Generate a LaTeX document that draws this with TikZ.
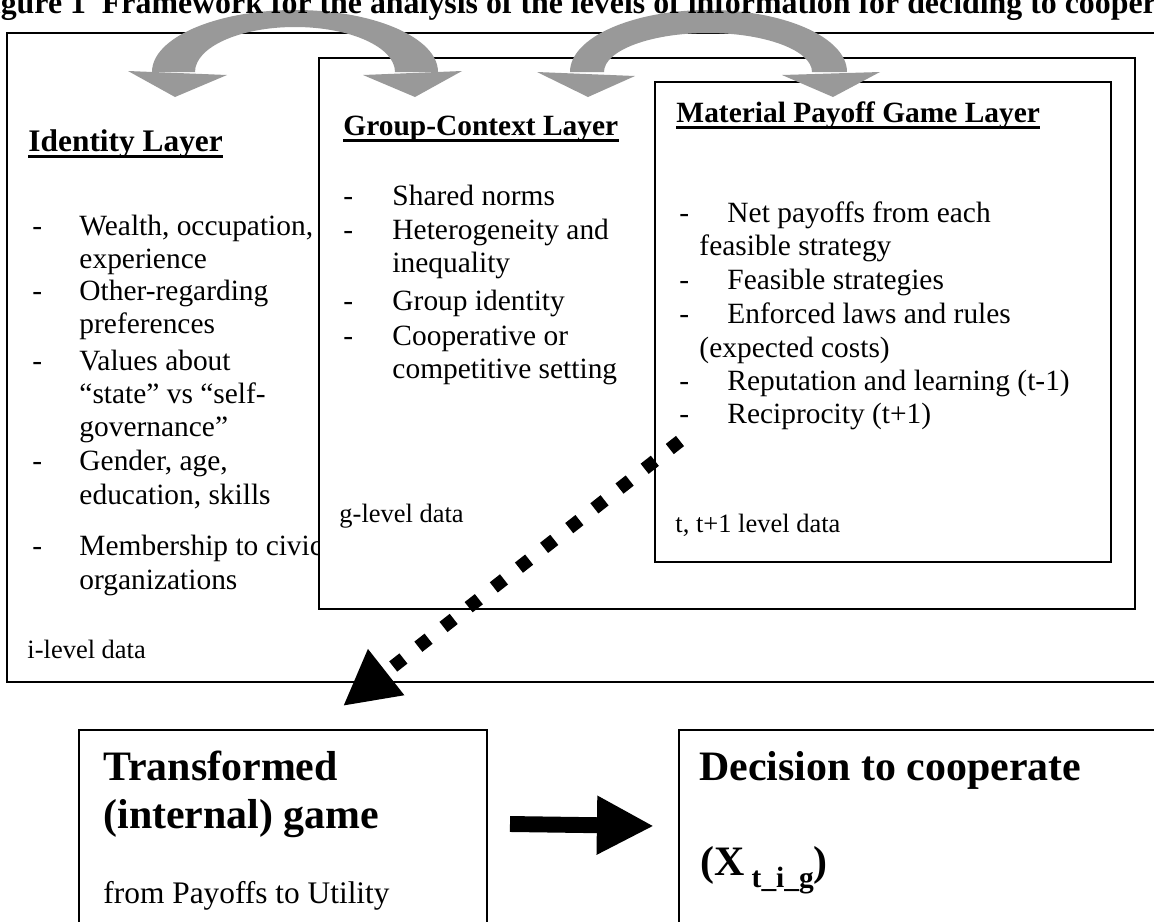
\documentclass[tikz,border=0pt]{standalone}
\usepackage{fontspec}
\setmainfont{Liberation Serif}
\usetikzlibrary{arrows.meta}

\definecolor{arcgray}{RGB}{153,153,153}

\tikzset{
  layer/.style={draw, line width=0.8pt, fill=white},
  txt/.style={anchor=base west, inner sep=0pt, font=\fontsize{12}{14}\selectfont},
  heading/.style={txt, font=\fontsize{12}{14}\selectfont\bfseries},
  datatxt/.style={txt, font=\fontsize{10.8}{13}\selectfont},
  bigtxt/.style={txt, font=\fontsize{17.1}{20}\selectfont\bfseries},
  uline/.style={line width=1.5pt},
  curved/.style={fill=arcgray, draw=none},
}

\begin{document}
\begin{tikzpicture}[x=0.408pt, y=-0.408pt]
\useasboundingbox (0,0) rectangle (1154,921);
\clip (0,0) rectangle (1154,921);

% Identity layer (outer box)
\draw[layer] (7,33) rectangle (1180,682);
\node[heading, font=\fontsize{12.8}{15}\selectfont\bfseries] (idhead) at (28,151) {Identity Layer};
\draw[uline] ([yshift=-2.2pt]idhead.base west) -- ([yshift=-2.2pt]idhead.base east);
\foreach \yy in {235,300,370,470,555}
  \node[txt] at (32,\yy) {-};
\foreach \yy/\txt [count=\i] in {235/{Wealth, occupation,}, 268/experience,
    300/Other-regarding, 333/preferences, 370/Values about,
    403/{“state” vs “self-}, 436/governance”, 470/{Gender, age,},
    504/{education, skills}, 555/Membership to civic, 589/organizations}
  \node[txt] (id\i) at (79,\yy) {\txt};
\node[datatxt] (idata) at (27,658) {i-level data};

% Group-context layer
\draw[layer] (319,58) rectangle (1135,609);
\node[heading] (grhead) at (343,135) {Group-Context Layer};
\draw[uline] ([yshift=-2.2pt]grhead.base west) -- ([yshift=-2.2pt]grhead.base east);
\foreach \yy in {205,239,310,345}
  \node[txt] at (343,\yy) {-};
\foreach \yy/\txt [count=\i] in {205/Shared norms, 239/Heterogeneity and,
    272/inequality, 310/Group identity, 345/Cooperative or,
    378/competitive setting}
  \node[txt] (gr\i) at (392,\yy) {\txt};
\node[datatxt] (gdata) at (339,522) {g-level data};

% Material payoff layer
\draw[layer] (655,82) rectangle (1111,562);
\node[heading] (mahead) at (676,122) {Material Payoff Game Layer};
\draw[uline] ([yshift=-2.2pt]mahead.base west) -- ([yshift=-2.2pt]mahead.base east);
\foreach \yy in {222,289,323,390,423}
  \node[txt] at (679,\yy) {-};
\node[txt] (ma1) at (727,222) {Net payoffs from each};
\node[txt] (ma2) at (699,255) {feasible strategy};
\node[txt] (ma3) at (727,289) {Feasible strategies};
\node[txt] (ma4) at (727,323) {Enforced laws and rules};
\node[txt] (ma5) at (699,357) {(expected costs)};
\node[txt] (ma6) at (727,390) {Reputation and learning (t-1)};
\node[txt] (ma7) at (727,423) {Reciprocity (t+1)};
\node[datatxt] (tdata) at (675,532) {t, t+1 level data};

% curved gray arrows
\fill[curved] (152,72) arc[start angle=180, end angle=360, x radius=143, y radius=62]
  -- (395,72) arc[start angle=0, end angle=-180, x radius=100, y radius=45] -- cycle;
\fill[curved] (128,71) -- (227,75) -- (175,97) -- cycle;
\fill[curved] (363,75) -- (462,71) -- (415,97) -- cycle;
\fill[curved] (570,72) arc[start angle=180, end angle=360, x radius=138.5, y radius=62]
  -- (812,72) arc[start angle=0, end angle=-180, x radius=104, y radius=39] -- cycle;
\fill[curved] (537,72) -- (635,76) -- (588,97) -- cycle;
\fill[curved] (782,75) -- (880,72) -- (833,97) -- cycle;

% title (cut by the page)
\node[txt, font=\fontsize{13}{16}\selectfont\bfseries] (title) at (-28,13)
  {Figure 1\ \ Framework for the analysis of the levels of information for deciding to cooperate};

% bottom boxes
\draw[layer] (79,730) rectangle (487,960);
\draw[layer] (679,730) rectangle (1180,960);
\node[bigtxt] (tr1) at (103,780) {Transformed};
\node[bigtxt] (tr2) at (103,828) {(internal) game};
\node[txt, font=\fontsize{12.8}{15}\selectfont] (tr3) at (103,903) {from Payoffs to Utility};
\node[bigtxt] (de1) at (699,780) {Decision to cooperate};
\node[bigtxt] (de2) at (700,875) {(X\,\raisebox{-5pt}{\fontsize{12}{14}\selectfont t\_i\_g})};

% arrows
\coordinate (dotS) at (680,441);
\coordinate (dotE) at (343,706);
\draw[line width=5.3pt, dash pattern=on 5.3pt off 7.75pt,
  -{Triangle[length=22.4pt, width=22.4pt]}] (dotS) -- (dotE);
\coordinate (blkS) at (510,824);
\coordinate (blkE) at (654,826);
\draw[line width=6.5pt, -{Triangle[length=23.3pt, width=22.4pt]}] (blkS) -- (blkE);
\end{tikzpicture}
\end{document}
